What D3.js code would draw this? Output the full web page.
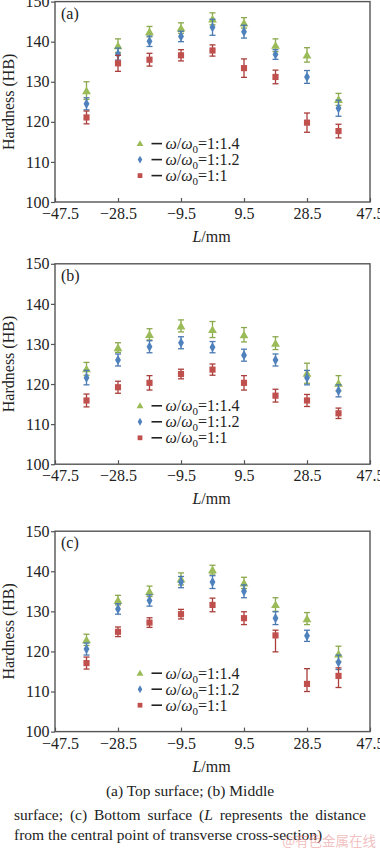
<!DOCTYPE html>
<html lang="en">
<head>
<meta charset="UTF-8">
<title>Hardness distribution</title>
<script src="https://d3js.org/d3.v7.min.js"></script>
<style>
  body { margin: 0; background: #fff; }
  svg { display: block; font-family: "Liberation Serif", "Times New Roman", serif; }
  .tick text { font-size: 16px; fill: #222; font-family: "Liberation Serif", serif; }
  .tick line { stroke: #555; stroke-width: 1.2px; }
</style>
</head>
<body>
<svg width="380" height="850"></svg>
<script>
// positions along transverse section (mm)
const positions = [-38, -28.5, -19, -9.5, 0, 9.5, 19, 28.5, 38];
const xTicks = [-47.5, -28.5, -9.5, 9.5, 28.5, 47.5];
const yTicks = [100, 110, 120, 130, 140, 150];
const seriesNames = ["1:1.4", "1:1.2", "1:1"];

// (a) top surface
const topR14 = [127.8, 139.0, 142.5, 143.4, 145.7, 144.7, 139.1, 136.7, 125.6];
const topR14Err = [2.2, 1.7, 1.3, 1.3, 1.5, 1.3, 1.6, 1.8, 1.5];
const topR12 = [124.5, 136.9, 140.1, 141.3, 143.6, 142.5, 136.8, 131.2, 123.4];
const topR12Err = [1.5, 1.5, 1.3, 1.3, 2.0, 1.6, 1.2, 1.6, 2.0];
const topR1 = [121.1, 134.6, 135.5, 136.6, 137.8, 133.4, 131.2, 119.8, 117.7];
const topR1Err = [1.6, 2.0, 1.6, 1.4, 1.4, 2.3, 1.7, 2.4, 1.7];

// (b) middle surface
const midR14 = [123.8, 129.1, 132.4, 134.5, 133.6, 132.3, 130.2, 122.7, 120.2];
const midR14Err = [1.6, 1.2, 1.4, 1.5, 2.0, 1.8, 1.6, 2.5, 1.9];
const midR12 = [121.6, 126.0, 129.3, 130.3, 129.2, 127.2, 126.0, 121.6, 118.3];
const midR12Err = [1.8, 1.5, 1.5, 1.5, 1.4, 1.5, 1.5, 1.8, 1.5];
const midR1 = [115.9, 119.2, 120.3, 122.5, 123.6, 120.3, 117.1, 115.9, 112.7];
const midR1Err = [1.6, 1.5, 1.8, 1.2, 1.4, 1.8, 1.6, 1.5, 1.3];

// (c) bottom surface
const botR14 = [122.9, 132.8, 135.0, 138.1, 140.4, 137.1, 131.7, 128.2, 119.4];
const botR14Err = [1.4, 1.2, 1.3, 1.5, 1.1, 1.4, 1.7, 1.5, 1.9];
const botR12 = [120.6, 130.6, 132.7, 137.3, 137.3, 135.0, 128.3, 123.9, 117.3];
const botR12Err = [1.5, 1.3, 1.4, 1.4, 1.6, 1.6, 1.6, 1.4, 1.8];
const botR1 = [117.1, 124.9, 127.2, 129.3, 131.6, 128.3, 124.0, 111.9, 113.9];
const botR1Err = [1.5, 1.2, 1.2, 1.2, 1.7, 1.6, 1.3, 3.8, 2.0];
const botR1ErrLow = [1.5, 1.2, 1.2, 1.2, 1.7, 1.6, 4.1, 1.9, 2.9];

const panels = [
  { label: "(a)", top: 1.6, series: [[topR14, topR14Err], [topR12, topR12Err], [topR1, topR1Err]] },
  { label: "(b)", top: 263.8, series: [[midR14, midR14Err], [midR12, midR12Err], [midR1, midR1Err]] },
  { label: "(c)", top: 531.2, series: [[botR14, botR14Err], [botR12, botR12Err], [botR1, botR1Err, botR1ErrLow]] }
];

const colors = ["#9bbb59", "#4f81bd", "#c0504d"];
const barColors = ["#8aa84c", "#4a78b0", "#a93e3b"];
const shapes = [d3.symbolTriangle, d3.symbolDiamond, d3.symbolSquare];
const sizes = [34, 30, 38];

const svg = d3.select("svg");
const left = 55, right = 370, ph = 200.4;

const x = d3.scaleLinear().domain([-47.5, 47.5]).range([left, right]);
const fmt = d => d < 0 ? "\u2212" + Math.abs(d) : String(d);

panels.forEach(p => {
  const y = d3.scaleLinear().domain([100, 150]).range([p.top + ph, p.top]);
  const g = svg.append("g");

  // y axis (ticks outward)
  g.append("g")
    .attr("transform", `translate(${left},0)`)
    .call(d3.axisLeft(y).tickValues(yTicks).tickSize(4).tickPadding(1.5).tickSizeOuter(0))
    .call(a => a.select(".domain").remove());

  // x axis (ticks inward)
  g.append("g")
    .attr("transform", `translate(0,${p.top + ph})`)
    .call(d3.axisBottom(x).tickValues(xTicks).tickFormat(fmt).tickSize(-4).tickPadding(5.6).tickSizeOuter(0))
    .call(a => a.select(".domain").remove())
    .call(a => a.selectAll(".tick text").filter(d => d === -47.5).attr("dx", 5));

  // frame
  g.append("rect")
    .attr("x", left).attr("y", p.top)
    .attr("width", right - left).attr("height", ph)
    .attr("fill", "none").attr("stroke", "#555").attr("stroke-width", 1.4);

  // axis titles
  g.append("text")
    .attr("transform", `translate(14,${p.top + ph / 2}) rotate(-90)`)
    .attr("text-anchor", "middle")
    .attr("font-size", 16).attr("fill", "#222")
    .text("Hardness (HB)");

  const xl = g.append("text")
    .attr("x", (left + right) / 2 - 1).attr("y", p.top + ph + 40)
    .attr("text-anchor", "middle").attr("font-size", 16).attr("fill", "#222");
  xl.append("tspan").attr("font-style", "italic").text("L");
  xl.append("tspan").text("/mm");

  g.append("text")
    .attr("x", 61).attr("y", p.top + 17)
    .attr("font-size", 16).attr("fill", "#222")
    .text(p.label);

  // series
  p.series.forEach((s, i) => {
    const vals = s[0], up = s[1], dn = s[2] || s[1];
    const pts = positions.map((px, k) => ({ px, v: vals[k], hi: vals[k] + up[k], lo: vals[k] - dn[k] }));
    const sg = g.append("g");
    const eb = sg.selectAll(".eb").data(pts).join("g")
      .attr("stroke", barColors[i]).attr("stroke-width", 1.3);
    eb.append("line")
      .attr("x1", d => x(d.px)).attr("x2", d => x(d.px))
      .attr("y1", d => y(d.hi)).attr("y2", d => y(d.lo));
    eb.append("line")
      .attr("x1", d => x(d.px) - 3).attr("x2", d => x(d.px) + 3)
      .attr("y1", d => y(d.hi)).attr("y2", d => y(d.hi));
    eb.append("line")
      .attr("x1", d => x(d.px) - 3).attr("x2", d => x(d.px) + 3)
      .attr("y1", d => y(d.lo)).attr("y2", d => y(d.lo));
    sg.selectAll("path.m").data(pts).join("path")
      .attr("class", "m")
      .attr("transform", d => `translate(${x(d.px)},${y(d.v) + (i === 0 ? 1 : 0)})`)
      .attr("d", d3.symbol().type(shapes[i]).size(sizes[i]))
      .attr("fill", colors[i]);
  });

  // legend
  seriesNames.forEach((name, i) => {
    const ry = p.top + 142 + i * 16;
    g.append("path")
      .attr("transform", `translate(140,${ry + (i === 0 ? 0.5 : 0)})`)
      .attr("d", d3.symbol().type(shapes[i]).size(sizes[i] * 0.6))
      .attr("fill", colors[i]);
    g.append("line")
      .attr("x1", 151.5).attr("x2", 162).attr("y1", ry).attr("y2", ry)
      .attr("stroke", "#222").attr("stroke-width", 1.6);
    const t = g.append("text")
      .attr("x", 165.5).attr("y", ry + 5.5)
      .attr("font-size", 16).attr("fill", "#222");
    t.append("tspan").attr("font-style", "italic").text("\u03c9");
    t.append("tspan").text("/");
    t.append("tspan").attr("font-style", "italic").text("\u03c9");
    t.append("tspan").attr("font-size", 11).attr("dy", 4).text("0");
    t.append("tspan").attr("dy", -4).text("=" + name);
  });
});

// caption
svg.append("text")
  .attr("x", 190).attr("y", 796)
  .attr("text-anchor", "middle").attr("font-size", 15.5).attr("fill", "#222")
  .text("(a) Top surface; (b) Middle");

// justified second line
const line2 = ["surface;", "(c)", "Bottom", "surface", "(L", "represents", "the", "distance"];
const l2 = svg.append("text").attr("y", 820).attr("font-size", 15.5).attr("fill", "#222");
const widths = line2.map(w => {
  const tmp = svg.append("text").attr("font-size", 15.5);
  if (w === "(L") { tmp.append("tspan").text("("); tmp.append("tspan").attr("font-style", "italic").text("L"); }
  else tmp.text(w);
  const wd = tmp.node().getComputedTextLength();
  tmp.remove();
  return wd;
});
const gap = (366 - 14 - d3.sum(widths)) / (line2.length - 1);
let cx = 14;
line2.forEach((w, k) => {
  if (w === "(L") {
    l2.append("tspan").attr("x", cx).text("(");
    l2.append("tspan").attr("font-style", "italic").text("L");
  } else {
    l2.append("tspan").attr("x", cx).text(w);
  }
  cx += widths[k] + gap;
});

svg.append("text")
  .attr("x", 14).attr("y", 840)
  .attr("font-size", 15.5).attr("fill", "#222")
  .text("from the central point of transverse cross-section)");

// watermark
svg.append("text")
  .attr("x", 376).attr("y", 846)
  .attr("text-anchor", "end")
  .attr("font-family", "'Noto Sans CJK SC', sans-serif")
  .attr("font-size", 13.5).attr("fill", "#e88f8f").attr("opacity", 0.55)
  .text("@有色金属在线");
</script>
</body>
</html>
